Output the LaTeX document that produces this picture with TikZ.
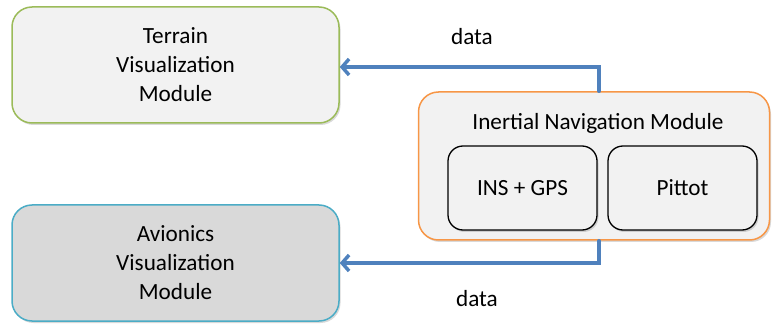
\documentclass[tikz,border=0pt]{standalone}
\usepackage{fontspec}
\setmainfont{Carlito}
\usetikzlibrary{arrows.meta,shadows}
\definecolor{boxfill}{HTML}{F2F2F2}
\definecolor{greyfill}{HTML}{D9D9D9}
\definecolor{terrainline}{HTML}{9BBB59}
\definecolor{avionicsline}{HTML}{4BACC6}
\definecolor{inmline}{HTML}{F79646}
\definecolor{flowblue}{HTML}{4F81BD}
\tikzset{
  softshadow/.style={drop shadow={shadow xshift=1.5pt,shadow yshift=-2pt,opacity=0.25,fill=black!60}},
  module/.style={draw,line width=1.5pt,rounded corners=20pt,align=center,softshadow,
    font=\fontsize{23.2}{29}\selectfont,inner sep=0pt},
  submodule/.style={draw=black,line width=1.3pt,fill=boxfill,rounded corners=15pt,
    minimum width=149pt,minimum height=84pt,font=\fontsize{23.2}{29}\selectfont,inner sep=0pt,softshadow},
  flow/.style={draw=flowblue,line width=3.5pt,line cap=round,line join=miter,
    -{Straight Barb[length=7pt,width=16pt,line width=3.5pt]}},
  lbl/.style={font=\fontsize{23.2}{29}\selectfont,inner sep=0pt}
}
\begin{document}
\begin{tikzpicture}[x=1pt,y=-1pt]
\useasboundingbox (0,0) rectangle (772,326);
% left-hand display modules
\node[module,draw=terrainline,fill=boxfill,minimum width=327pt,minimum height=116pt]
  (terrain) at (175.5,65) {Terrain\\Visualization\\Module};
\node[module,draw=avionicsline,fill=greyfill,minimum width=327pt,minimum height=116pt]
  (avionics) at (175.5,263) {Avionics\\Visualization\\Module};
% navigation module with its two units
\node[module,draw=inmline,fill=boxfill,minimum width=351pt,minimum height=148pt]
  (inm) at (594,166) {};
\node[lbl] (inmtitle) at (598,123) {Inertial Navigation Module};
\node[submodule] (insgps) at (522.5,188) {INS + GPS};
\node[submodule] (pittot) at (682.5,188) {Pittot};
% data flows
\draw[flow] ([xshift=5pt]inm.north) |- ([yshift=-2pt]terrain.east);
\draw[flow] ([xshift=5pt]inm.south) |- (avionics.east);
\node[lbl] (datatop) at (472,37) {data};
\node[lbl] (databottom) at (477,299) {data};
\end{tikzpicture}
\end{document}
